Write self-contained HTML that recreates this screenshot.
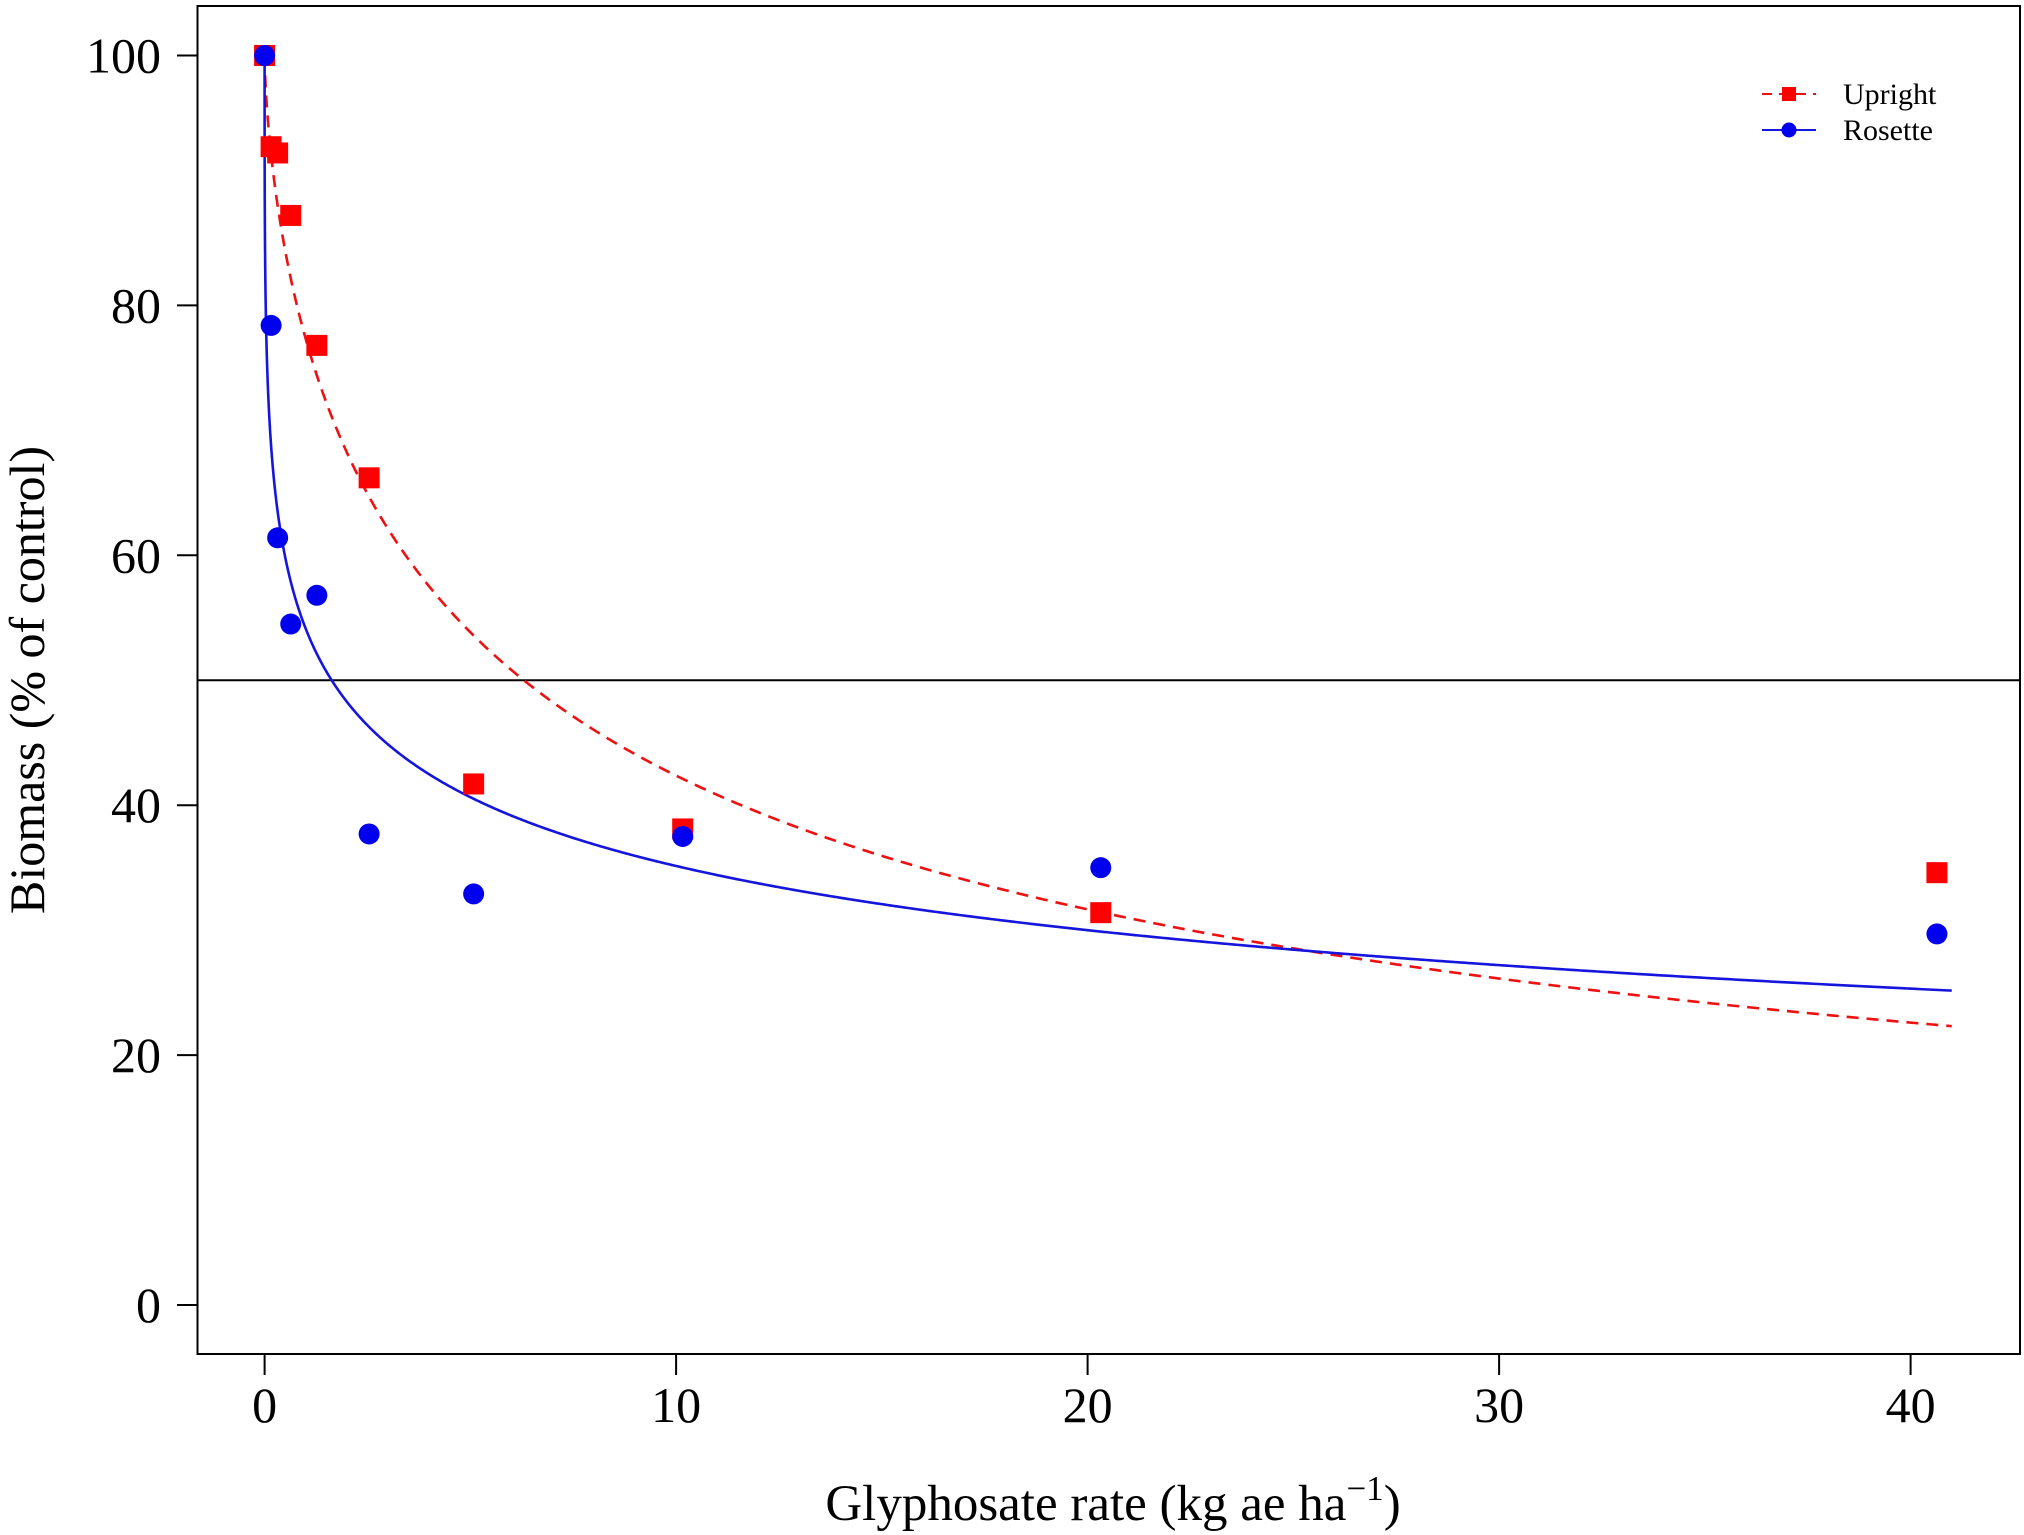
<!DOCTYPE html>
<html><head><meta charset="utf-8"><style>
html,body{margin:0;padding:0;background:#fff;}
svg{display:block;font-family:"Liberation Serif",serif;}
</style></head><body>
<svg id="chart" width="2024" height="1535" viewBox="0 0 2024 1535"></svg>
<script>
const xValues = [0, 0.158, 0.317, 0.635, 1.27, 2.54, 5.08, 10.16, 20.32, 40.64];
const uprightValues = [100, 92.7, 92.2, 87.2, 76.8, 66.2, 41.7, 38.1, 31.4, 34.6];
const rosetteValues = [100, 78.4, 61.4, 54.5, 56.8, 37.7, 32.9, 37.5, 35.0, 29.7];
const uprightFit = [6.3, 0.666];   // ED50, slope
const rosetteFit = [1.63, 0.338];  // ED50, slope
const xTicks = [0, 10, 20, 30, 40];
const yTicks = [0, 20, 40, 60, 80, 100];
const refLine = [50];

const NS = "http://www.w3.org/2000/svg";
const svg = document.getElementById("chart");
const X0 = 264.6, XS = 41.15, Y0 = 1305, YS = 12.495;
const sx = v => X0 + v * XS;
const sy = v => Y0 - v * YS;
function mk(tag, attrs, parent) {
  const e = document.createElementNS(NS, tag);
  for (const k in attrs) e.setAttribute(k, attrs[k]);
  (parent || svg).appendChild(e);
  return e;
}
const box = mk("rect", {x:197.5, y:6, width:1822.5, height:1348, fill:"none", stroke:"#000", "stroke-width":2});



const yAxis = mk("g", {});


mk("line", {x1:197.5, x2:197.5, y1:sy(0), y2:sy(100), stroke:"#000", "stroke-width":2}, yAxis);
yTicks.forEach(t => {
  mk("line", {x1:177, x2:197.5, y1:sy(t), y2:sy(t), stroke:"#000", "stroke-width":2}, yAxis);
  const tx = mk("text", {x:161, y:sy(t)+17, "text-anchor":"end", "font-size":50}, yAxis);
  tx.textContent = t;
  
  
});
const xAxis = mk("g", {});


mk("line", {x1:sx(0), x2:sx(40), y1:1354, y2:1354, stroke:"#000", "stroke-width":2}, xAxis);
xTicks.forEach(t => {
  mk("line", {x1:sx(t), x2:sx(t), y1:1354, y2:1375, stroke:"#000", "stroke-width":2}, xAxis);
  const tx = mk("text", {x:sx(t), y:1422, "text-anchor":"middle", "font-size":50}, xAxis);
  tx.textContent = t;
  
  
});
const yt = mk("text", {x:0, y:0, transform:"translate(44,680) rotate(-90)", "text-anchor":"middle", "font-size":50});
yt.textContent = "Biomass (% of control)";


const xt = mk("text", {x:1113, y:1520, "text-anchor":"middle", "font-size":51});
xt.innerHTML = 'Glyphosate rate (kg ae ha<tspan dy="-20" font-size="35">−1</tspan><tspan dy="20">)</tspan>';



refLine.forEach(v => {
  const l = mk("line", {x1:197.5, x2:2020, y1:sy(v), y2:sy(v), stroke:"#000", "stroke-width":2});
  
  
});

function curve(p) {
  const pts = [];
  for (let i = 0; i <= 800; i++) {
    const x = 41 * Math.pow(i / 800, 2.5);
    const y = 100 / (1 + Math.pow(x / p[0], p[1]));
    pts.push(sx(x).toFixed(2) + "," + sy(y).toFixed(2));
  }
  return "M" + pts.join("L");
}
const cu = mk("path", {d:curve(uprightFit), fill:"none", stroke:"#ee1111", "stroke-width":2.6, "stroke-dasharray":"12,8"});


const cr = mk("path", {d:curve(rosetteFit), fill:"none", stroke:"#1515dd", "stroke-width":2.6});



xValues.forEach((x, i) => {
  const s = mk("rect", {x:sx(x)-10.5, y:sy(uprightValues[i])-10.5, width:21, height:21, fill:"#f00"});
  
  
});
xValues.forEach((x, i) => {
  const c = mk("circle", {cx:sx(x), cy:sy(rosetteValues[i]), r:10.5, fill:"#0000ee"});
  
  
});

const lg = mk("g", {});


const e1 = mk("g", {}, lg);


mk("line", {x1:1762, x2:1816, y1:94, y2:94, stroke:"#ee1111", "stroke-width":2, "stroke-dasharray":"10,7"}, e1);
mk("rect", {x:1782, y:87, width:14, height:14, fill:"#f00"}, e1);
const t1 = mk("text", {x:1843, y:104, "font-size":30}, e1); t1.textContent = "Upright";
const e2 = mk("g", {}, lg);


mk("line", {x1:1762, x2:1816, y1:130, y2:130, stroke:"#1515dd", "stroke-width":2}, e2);
mk("circle", {cx:1789, cy:130, r:7.5, fill:"#0000ee"}, e2);
const t2 = mk("text", {x:1843, y:140, "font-size":30}, e2); t2.textContent = "Rosette";
</script>
</body></html>
